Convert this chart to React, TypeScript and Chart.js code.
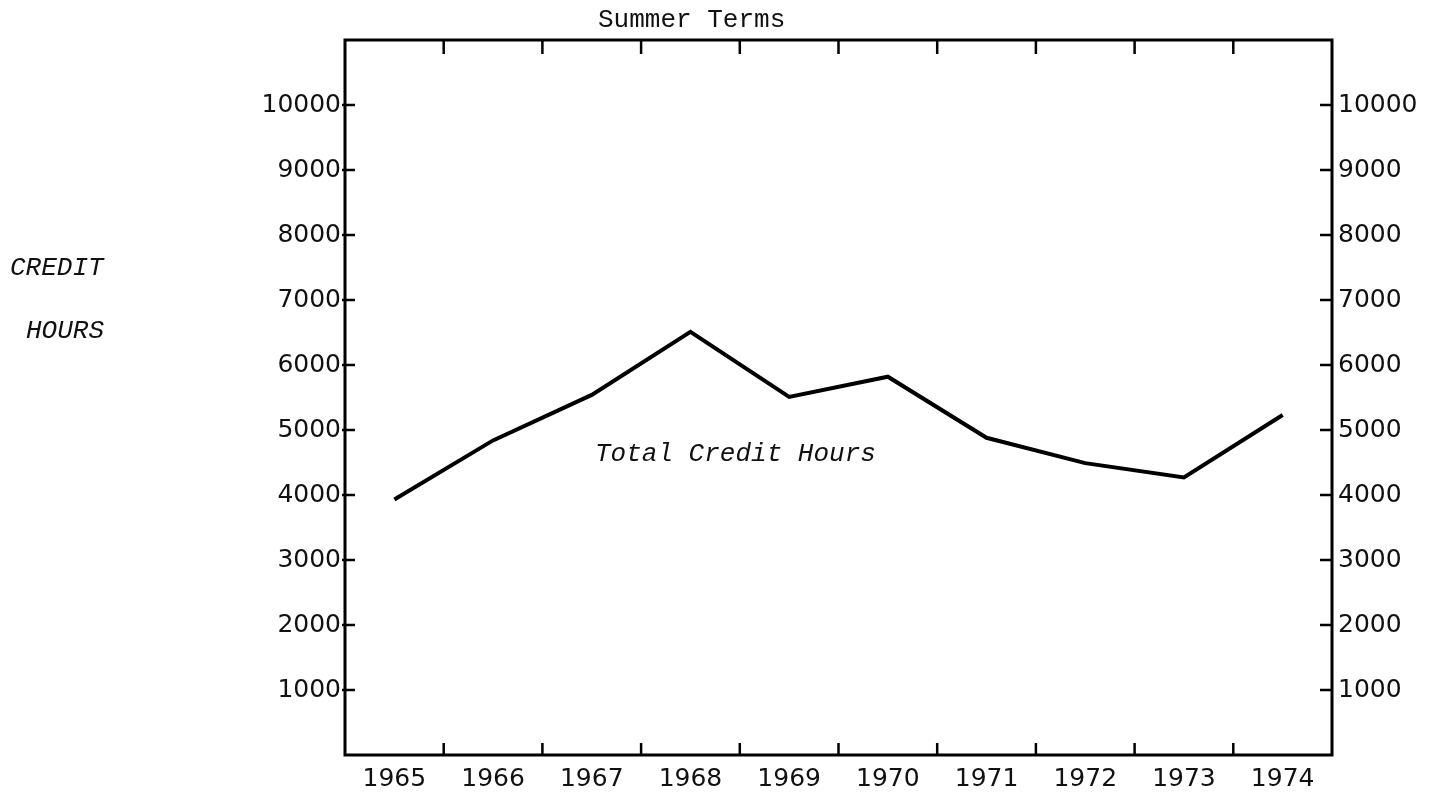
import React, { useEffect, useRef } from "react";
import { Chart, registerables } from "chart.js";

Chart.register(...registerables);

const years = ["1965", "1966", "1967", "1968", "1969", "1970", "1971", "1972", "1973", "1974"];
const totalCreditHours = [3930, 4840, 5540, 6510, 5510, 5820, 4880, 4490, 4270, 5230];
const yTickValues = [1000, 2000, 3000, 4000, 5000, 6000, 7000, 8000, 9000, 10000];
const titleText = "Summer Terms";
const yAxisTitleLines = ["CREDIT", "HOURS"];
const seriesLabel = "Total Credit Hours";

const MONO = '"Liberation Mono", "DejaVu Sans Mono", monospace';
const SANS = '"DejaVu Sans", sans-serif';

const decorPlugin = {
  id: "decor",
  afterDraw(chart: any) {
    const ctx = chart.ctx;
    const area = chart.chartArea;
    const x = chart.scales.x;
    const y = chart.scales.y;
    ctx.save();
    ctx.strokeStyle = "#000";
    // frame
    ctx.lineWidth = 3;
    ctx.strokeRect(area.left, area.top, area.right - area.left, area.bottom - area.top);
    // x ticks at category boundaries (inside, top and bottom)
    ctx.lineWidth = 2.5;
    for (let i = 1; i < years.length; i++) {
      const px = (x.getPixelForValue(i - 1) + x.getPixelForValue(i)) / 2;
      ctx.beginPath();
      ctx.moveTo(px, area.bottom);
      ctx.lineTo(px, area.bottom - 12);
      ctx.moveTo(px, area.top);
      ctx.lineTo(px, area.top + 14);
      ctx.stroke();
    }
    // y ticks left and right
    for (const v of yTickValues) {
      const py = y.getPixelForValue(v);
      ctx.beginPath();
      ctx.moveTo(area.left - 3, py);
      ctx.lineTo(area.left + 10, py);
      ctx.moveTo(area.right, py);
      ctx.lineTo(area.right - 12, py);
      ctx.stroke();
    }
    // texts
    ctx.fillStyle = "#111";
    ctx.textBaseline = "alphabetic";
    ctx.textAlign = "left";
    ctx.font = `26px ${MONO}`;
    ctx.fillText(titleText, 598, 27);
    ctx.font = `italic 26px ${MONO}`;
    ctx.fillText(yAxisTitleLines[0], 10, 275);
    ctx.fillText(yAxisTitleLines[1], 26, 338);
    ctx.fillText(seriesLabel, 595, 461);
    ctx.restore();
  },
};

export default function App() {
  const ref = useRef<HTMLCanvasElement | null>(null);

  useEffect(() => {
    document.body.style.margin = "0";
    document.body.style.overflow = "hidden";
    const canvas = ref.current;
    if (!canvas) return;
    const fixY = (w: number) => (scale: any) => {
      scale.width = w;
      scale.paddingTop = 0;
      scale.paddingBottom = 0;
    };
    const yTicksCommon = {
      min: 0,
      max: 11000,
      afterBuildTicks: (scale: any) => {
        scale.ticks = yTickValues.map((v) => ({ value: v }));
      },
    };
    const chart = new Chart(canvas, {
      type: "line",
      data: {
        labels: years,
        datasets: [
          {
            label: seriesLabel,
            data: totalCreditHours,
            borderColor: "#000",
            borderWidth: 4,
            pointRadius: 0,
            tension: 0,
            fill: false,
            yAxisID: "y",
          },
        ],
      },
      plugins: [decorPlugin],
      options: {
        responsive: false,
        animation: false,
        events: [],
        layout: { padding: { top: 40, left: 0, right: 0, bottom: 0 } },
        plugins: {
          legend: { display: false },
          title: { display: false },
          tooltip: { enabled: false },
        },
        scales: {
          x: {
            type: "category",
            offset: true,
            position: "bottom",
            grid: { display: false, offset: true, drawTicks: false },
            border: { display: false },
            ticks: {
              color: "#111",
              font: { family: SANS, size: 25 },
              padding: 9,
              maxRotation: 0,
              autoSkip: false,
            },
            afterFit: (scale: any) => {
              scale.height = 38;
              scale.paddingLeft = 0;
              scale.paddingRight = 0;
            },
          },
          y: {
            ...yTicksCommon,
            position: "left",
            grid: { display: false, drawTicks: false },
            border: { display: false },
            ticks: {
              color: "#111",
              font: { family: SANS, size: 25 },
              padding: 4,
              callback: (v: any) => String(v),
            },
            afterFit: fixY(345),
          },
          y2: {
            ...yTicksCommon,
            position: "right",
            grid: { display: false, drawTicks: false },
            border: { display: false },
            ticks: {
              color: "#111",
              font: { family: SANS, size: 25 },
              padding: 6,
              callback: (v: any) => String(v),
            },
            afterFit: fixY(102),
          },
        },
      },
    } as any);
    return () => chart.destroy();
  }, []);

  return (
    <div style={{ width: 1434, height: 793, background: "#fff" }}>
      <canvas ref={ref} width={1434} height={793} style={{ display: "block" }} />
    </div>
  );
}
